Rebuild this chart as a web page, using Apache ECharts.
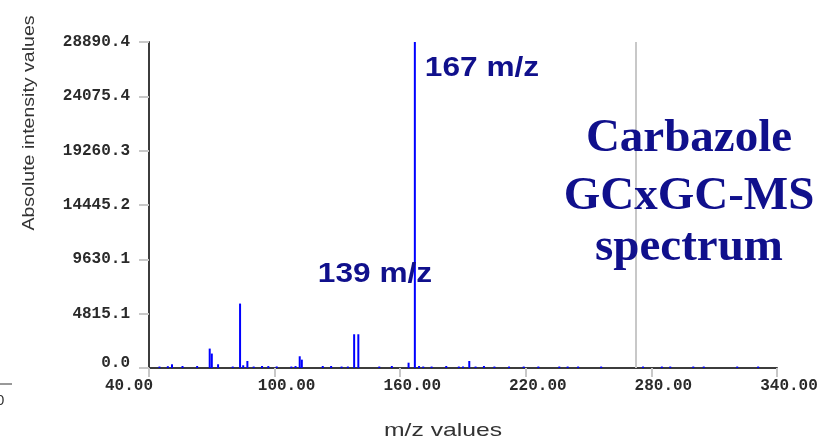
<!DOCTYPE html>
<html>
<head>
<meta charset="utf-8">
<script src="https://cdn.jsdelivr.net/npm/echarts@6/dist/echarts.min.js"></script>
<style>
html,body{margin:0;padding:0;background:#fff;}
#chart{width:829px;height:439px;}
</style>
</head>
<body>
<div id="chart"></div>
<script>
// m/z positions of the peaks
const mzValues = [45, 49, 51, 56, 63, 69, 70, 73, 80, 83.5, 85, 87, 90, 94, 97, 101, 108, 110, 112, 113,
  123, 127, 132, 135, 138, 140, 150, 156, 164, 167, 169, 171, 175, 182, 188, 190, 193, 196, 200,
  205, 212, 219, 226, 236, 240, 245, 256, 276, 285, 289, 300, 305, 321, 331];
// absolute intensities of the peaks
const intensities = [130, 160, 330, 180, 180, 1720, 1280, 330, 130, 5710, 240, 620, 130, 180, 170, 140, 130, 170, 1040, 740,
  180, 180, 130, 130, 2990, 2990, 130, 180, 470, 28890.4, 180, 130, 130, 180, 130, 130, 620, 130, 180,
  130, 130, 130, 130, 130, 130, 130, 130, 130, 130, 130, 130, 130, 130, 130];
// tick labels
const xTickLabels = ['40.00', '100.00', '160.00', '220.00', '280.00', '340.00'];
const yTickLabels = ['0.0', '4815.1', '9630.1', '14445.2', '19260.3', '24075.4', '28890.4'];
// marker line position (m/z)
const markerMz = 272.5;
// annotations
const peakLabels = ['167 m/z', '139 m/z'];
const titleLines = ['Carbazole', 'GCxGC-MS', 'spectrum'];

const xMin = 40, xMax = 340, xInterval = 60;
const yMax = 28890.4, yInterval = yMax / 6;

const peakData = mzValues.map((m, i) => [m, intensities[i]]);
const navy = '#10108c';

const chart = echarts.init(document.getElementById('chart'), null, {renderer: 'canvas'});
chart.setOption({
  animation: false,
  backgroundColor: '#ffffff',
  grid: {left: 149, top: 42, width: 628, height: 326},
  xAxis: {
    type: 'value', min: xMin, max: xMax, interval: xInterval,
    axisLine: {show: true, onZero: false, lineStyle: {color: '#3c3c3c', width: 2}},
    axisTick: {show: true, inside: false, length: 9, lineStyle: {color: '#c8c8c8', width: 2}},
    splitLine: {show: false},
    axisLabel: {
      margin: 10,
      formatter: function (v) {
        const i = Math.round((v - xMin) / xInterval);
        return (i === 0 ? '{a|' : '{b|') + xTickLabels[i] + '}';
      },
      rich: {
        a: {fontFamily: 'Liberation Mono', fontWeight: 'bold', fontSize: 16, color: '#2a2a2a', padding: [0, 40, 0, 0]},
        b: {fontFamily: 'Liberation Mono', fontWeight: 'bold', fontSize: 16, color: '#2a2a2a', padding: [0, 0, 0, 24]}
      }
    }
  },
  yAxis: {
    type: 'value', min: 0, max: yMax, interval: yInterval,
    axisLine: {show: true, lineStyle: {color: '#3c3c3c', width: 2}},
    axisTick: {show: true, inside: false, length: 10, lineStyle: {color: '#c8c8c8', width: 2}},
    splitLine: {show: false},
    axisLabel: {
      margin: 19,
      formatter: function (v) {
        const i = Math.round(v / yInterval);
        return (i === 0 ? '{a|' : '{b|') + yTickLabels[i] + '}';
      },
      rich: {
        a: {fontFamily: 'Liberation Mono', fontWeight: 'bold', fontSize: 16, color: '#2a2a2a', padding: [0, 0, 10, 0]},
        b: {fontFamily: 'Liberation Mono', fontWeight: 'bold', fontSize: 16, color: '#2a2a2a'}
      }
    }
  },
  series: [{
    type: 'bar',
    data: peakData,
    barWidth: 2,
    itemStyle: {color: '#0000ff'},
    markLine: {
      silent: true,
      symbol: 'none',
      label: {show: false},
      lineStyle: {color: '#c8c8c8', width: 2, type: 'solid'},
      data: [{xAxis: markerMz}]
    },
    z: 3
  }],
  graphic: [
    {type: 'text', x: 29, y: 123, rotation: Math.PI / 2, scaleX: 1.15,
     style: {text: 'Absolute intensity values', fontFamily: 'Liberation Sans', fontSize: 17, fill: '#333', align: 'center', verticalAlign: 'middle'}},
    {type: 'text', x: 443, y: 431, scaleX: 1.3,
     style: {text: 'm/z values', fontFamily: 'Liberation Sans', fontSize: 19, fill: '#333', align: 'center', verticalAlign: 'middle'}},
    {type: 'text', x: 482, y: 68, scaleX: 1.13,
     style: {text: peakLabels[0], fontFamily: 'Liberation Sans', fontWeight: 'bold', fontSize: 28, fill: navy, align: 'center', verticalAlign: 'middle'}, z: 10},
    {type: 'text', x: 375, y: 274, scaleX: 1.13,
     style: {text: peakLabels[1], fontFamily: 'Liberation Sans', fontWeight: 'bold', fontSize: 28, fill: navy, align: 'center', verticalAlign: 'middle'}, z: 10},
    {type: 'text', x: 689, y: 139,
     style: {text: titleLines[0], fontFamily: 'Liberation Serif', fontWeight: 'bold', fontSize: 47, fill: navy, align: 'center', verticalAlign: 'middle'}, z: 10},
    {type: 'text', x: 689, y: 197,
     style: {text: titleLines[1], fontFamily: 'Liberation Serif', fontWeight: 'bold', fontSize: 47, fill: navy, align: 'center', verticalAlign: 'middle'}, z: 10},
    {type: 'text', x: 689, y: 248,
     style: {text: titleLines[2], fontFamily: 'Liberation Serif', fontWeight: 'bold', fontSize: 47, fill: navy, align: 'center', verticalAlign: 'middle'}, z: 10},
    {type: 'line', shape: {x1: 0, y1: 384, x2: 12, y2: 384}, style: {stroke: '#333', lineWidth: 1}},
    {type: 'text', x: -4, y: 401,
     style: {text: '0', fontFamily: 'Liberation Sans', fontSize: 15, fill: '#333', align: 'left', verticalAlign: 'middle'}}
  ]
});
</script>
</body>
</html>
